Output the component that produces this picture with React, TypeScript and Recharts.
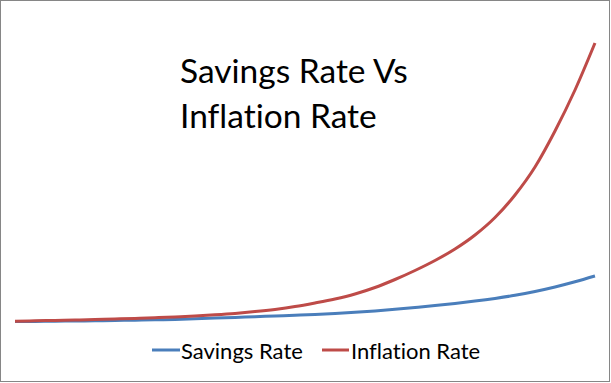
import React from "react";
import { LineChart, Line, XAxis, YAxis, Legend } from "recharts";

const periods = [0, 1, 2, 3, 4, 5, 6, 7, 8, 9, 10, 11, 12, 13, 14, 15, 16, 17, 18, 19, 20, 21, 22, 23, 24, 25, 26, 27, 28, 29];
const savingsRate = [8.5, 8.6, 8.8, 9.0, 9.2, 9.5, 9.8, 10.2, 10.6, 11.2, 11.9, 12.6, 13.3, 14.0, 14.7, 15.5, 16.5, 17.7, 19.1, 20.7, 22.5, 24.4, 26.5, 28.9, 31.6, 34.7, 38.5, 43.0, 48.2, 54.0];
const inflationRate = [8.7, 9.2, 9.6, 10.0, 10.5, 11.0, 11.6, 12.3, 13.1, 14.0, 15.2, 16.6, 18.4, 20.6, 23.4, 27.0, 31.0, 36.0, 42.5, 50.5, 59.5, 69.5, 81.0, 95.0, 112.5, 135.0, 163.0, 199.0, 240.0, 287.0];
const seriesNames = ["Savings Rate", "Inflation Rate"];
const titleLines = ["Savings Rate Vs", "Inflation Rate"];

const BLUE = "#4A7EBB";
const RED = "#BE4B48";
const FONT = "Lato, 'Open Sans', sans-serif";

const data = periods.map((p, i) => ({
  period: p,
  savings: savingsRate[i],
  inflation: inflationRate[i],
}));

const textStyle = { fontVariantLigatures: "none" as const };

const LegendContent = () => (
  <svg width={340} height={30} style={{ display: "block" }}>
    <line x1={0} y1={15} x2={28} y2={15} stroke={BLUE} strokeWidth={3} />
    <text x={29} y={23.5} fontFamily={FONT} fontSize={22} fill="#000" style={textStyle}>
      {seriesNames[0]}
    </text>
    <line x1={170} y1={15} x2={197} y2={15} stroke={RED} strokeWidth={3} />
    <text x={199} y={23.5} fontFamily={FONT} fontSize={22} fill="#000" style={textStyle}>
      {seriesNames[1]}
    </text>
  </svg>
);

export default function App() {
  return (
    <div style={{ position: "absolute", left: 0, top: 0, width: 611, height: 383, background: "#fff" }}>
      <div
        style={{
          position: "absolute",
          left: 0,
          top: 0,
          width: 610,
          height: 382,
          border: "1px solid #868686",
          boxSizing: "border-box",
        }}
      />
      <div style={{ position: "absolute", left: 0, top: 0 }}>
        <LineChart width={611} height={383} data={data} margin={{ top: 30, right: 16, bottom: 53, left: 15 }}>
          <XAxis dataKey="period" type="number" domain={[0, 29]} hide />
          <YAxis domain={[0, 300]} hide />
          <Line type="monotone" dataKey="savings" name={seriesNames[0]} stroke={BLUE} strokeWidth={3} dot={false} isAnimationActive={false} />
          <Line type="monotone" dataKey="inflation" name={seriesNames[1]} stroke={RED} strokeWidth={3} dot={false} isAnimationActive={false} />
          <Legend
            layout="horizontal"
            verticalAlign="middle"
            align="center"
            content={<LegendContent />}
            wrapperStyle={{ position: "absolute", top: 335, left: 152, width: 340, height: 30 }}
          />
        </LineChart>
      </div>
      <svg width={611} height={383} style={{ position: "absolute", left: 0, top: 0, pointerEvents: "none" }}>
        <text x={180} y={83} fontFamily={FONT} fontSize={33.5} fill="#000" style={textStyle}>
          {titleLines[0]}
        </text>
        <text x={180} y={128} fontFamily={FONT} fontSize={33.5} fill="#000" style={textStyle}>
          {titleLines[1]}
        </text>
      </svg>
    </div>
  );
}
